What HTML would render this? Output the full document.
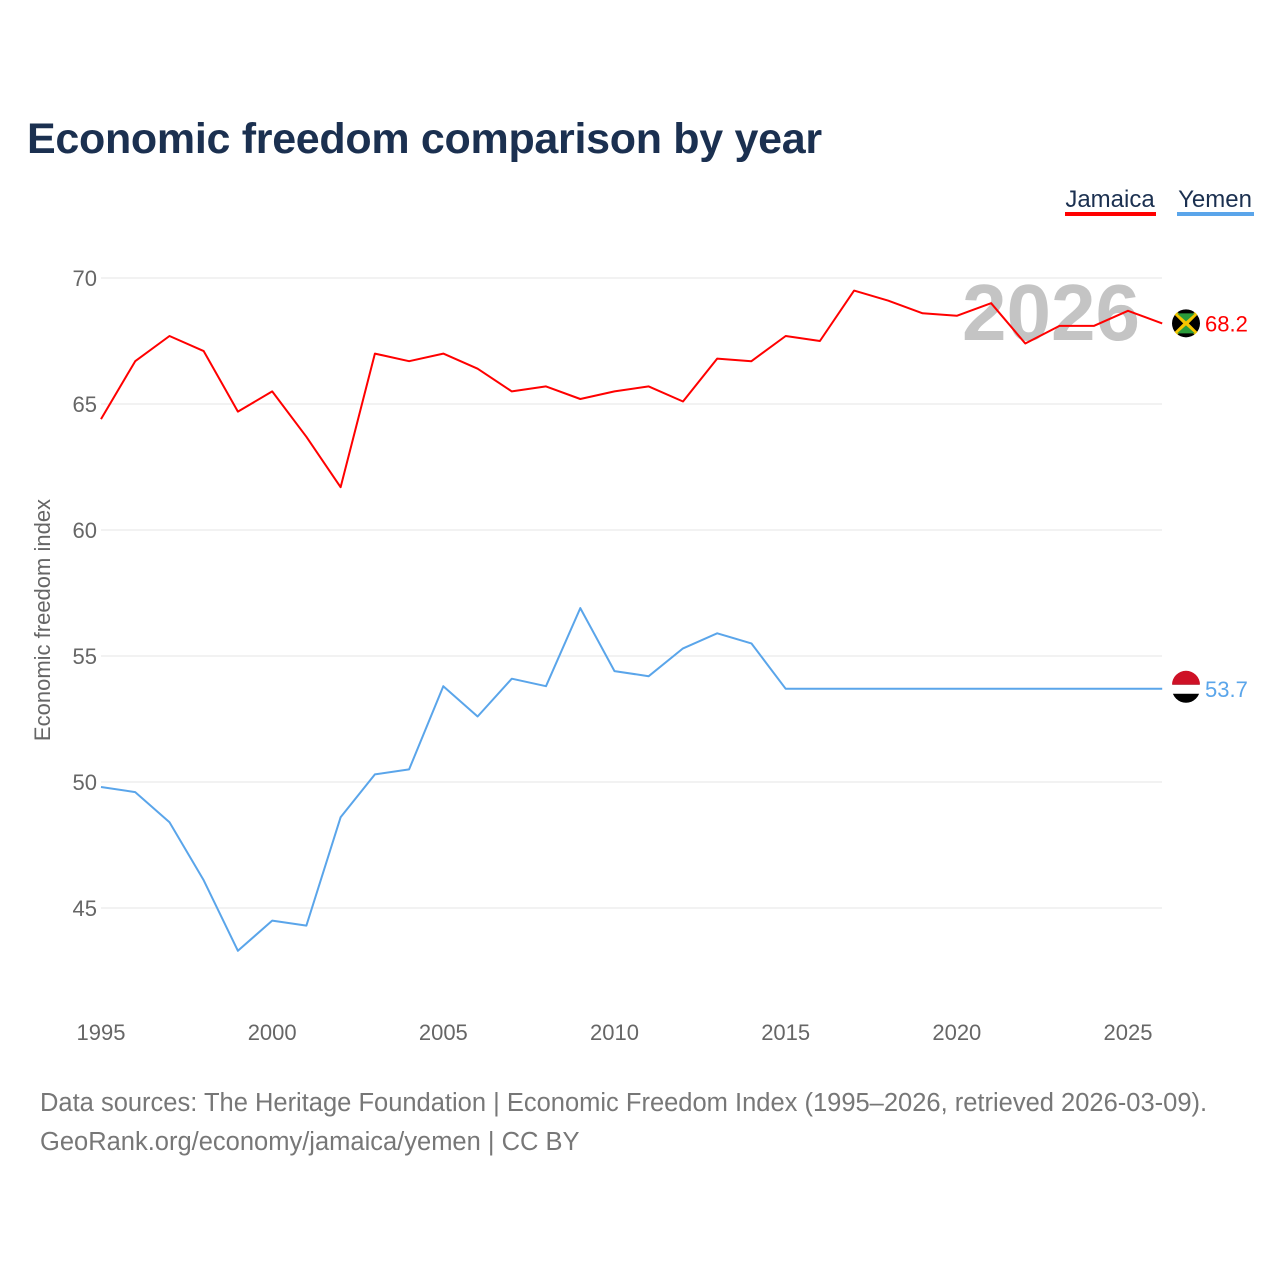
<!DOCTYPE html>
<html><head><meta charset="utf-8">
<style>
body{margin:0;background:#fff;font-family:"Liberation Sans",sans-serif;}
#wrap{position:relative;width:1280px;height:1280px;overflow:hidden;}
</style></head>
<body>
<div id="wrap">
<svg id="chart" width="1280" height="1280" xmlns="http://www.w3.org/2000/svg"></svg>
</div>
<script>
const years = [];
for (let y = 1995; y <= 2026; y++) years.push(y);
const jamaica = [64.4,66.7,67.7,67.1,64.7,65.5,63.7,61.7,67.0,66.7,67.0,66.4,65.5,65.7,65.2,65.5,65.7,65.1,66.8,66.7,67.7,67.5,69.5,69.1,68.6,68.5,69.0,67.4,68.1,68.1,68.7,68.2];
const yemen = [49.8,49.6,48.4,46.1,43.3,44.5,44.3,48.6,50.3,50.5,53.8,52.6,54.1,53.8,56.9,54.4,54.2,55.3,55.9,55.5,53.7,53.7,53.7,53.7,53.7,53.7,53.7,53.7,53.7,53.7,53.7,53.7];
const yTicks = [45,50,55,60,65,70];
const xTicks = [1995,2000,2005,2010,2015,2020,2025];

const NS = "http://www.w3.org/2000/svg";
const svg = document.getElementById('chart');
const xS = v => 101 + (v - 1995) * (1128 - 101) / 30;
const yS = v => 278 + (70 - v) * 25.2;
function mk(tag, attrs, text) {
  const e = document.createElementNS(NS, tag);
  for (const k in attrs) e.setAttribute(k, attrs[k]);
  if (text !== undefined) e.textContent = text;
  svg.appendChild(e);
  return e;
}
let t;
t = mk('text', {x:27, y:153, 'font-size':43, 'font-weight':'bold', fill:'#1b3050', 'letter-spacing':'-0.3'}, 'Economic freedom comparison by year');



yTicks.forEach(v => {
  let l = mk('line', {x1:101, x2:1162, y1:yS(v), y2:yS(v), stroke:'#e6e6e6', 'stroke-width':1});
  
  
  let tx = mk('text', {x:97, y:yS(v) + 8, 'font-size':22, fill:'#666', 'text-anchor':'end'}, String(v));
  
  
});
xTicks.forEach(v => {
  let tx = mk('text', {x:xS(v), y:1040, 'font-size':22, fill:'#666', 'text-anchor':'middle'}, String(v));
  
  
});
t = mk('text', {x:0, y:0, 'font-size':22, fill:'#666', 'text-anchor':'middle', transform:'translate(50,620) rotate(-90)'}, 'Economic freedom index');



t = mk('text', {x:1140, y:340, 'font-size':80, 'font-weight':'bold', fill:'#c4c4c4', 'text-anchor':'end'}, '2026');



function series(vals, color, name) {
  const d = vals.map((v, i) => (i ? 'L' : 'M') + xS(years[i]).toFixed(1) + ',' + yS(v).toFixed(1)).join(' ');
  let p = mk('path', {d:d, fill:'none', stroke:color, 'stroke-width':2, 'stroke-linejoin':'round'});
  
  
  const last = vals[vals.length - 1];
  let c = mk('circle', {cx:1186, cy:yS(last), r:14, fill:'#000'});
  
  
  let lb = mk('text', {x:1205, y:yS(last) + 8, 'font-size':22, fill:color}, last.toFixed(1));
  
  
  return c;
}
series(jamaica, '#ff0000', 'jamaica');
series(yemen, '#5aa5ea', 'yemen');
const jy = yS(jamaica[jamaica.length - 1]);
let f = mk('path', {d:`M1176,${jy-10} L1196,${jy+10} M1196,${jy-10} L1176,${jy+10}`, stroke:'#f5c400', 'stroke-width':4});


f = mk('path', {d:`M1177,${jy-10} L1195,${jy-10} L1186,${jy-2} Z M1177,${jy+10} L1195,${jy+10} L1186,${jy+2} Z`, fill:'#2a9b3a'});


const ye = yS(yemen[yemen.length - 1]);
f = mk('path', {d:`M1172,${ye-4} A14,14 0 0 1 1200,${ye-4} Z`, fill:'#ce1126'});


f = mk('rect', {x:1172, y:ye-4, width:28, height:9, fill:'#fff'});



t = mk('text', {x:1110, y:207, 'font-size':24, fill:'#1b3050', 'text-anchor':'middle'}, 'Jamaica');


f = mk('rect', {x:1065, y:212, width:91, height:4, fill:'#ff0000'});


t = mk('text', {x:1215, y:207, 'font-size':24, fill:'#1b3050', 'text-anchor':'middle'}, 'Yemen');


f = mk('rect', {x:1177, y:212, width:77, height:4, fill:'#5aa5ea'});



t = mk('text', {x:40, y:1111, 'font-size':25.5, fill:'#777'}, 'Data sources: The Heritage Foundation | Economic Freedom Index (1995–2026, retrieved 2026-03-09).');


t = mk('text', {x:40, y:1150, 'font-size':25.5, fill:'#777'}, 'GeoRank.org/economy/jamaica/yemen | CC BY');


</script>
</body></html>
